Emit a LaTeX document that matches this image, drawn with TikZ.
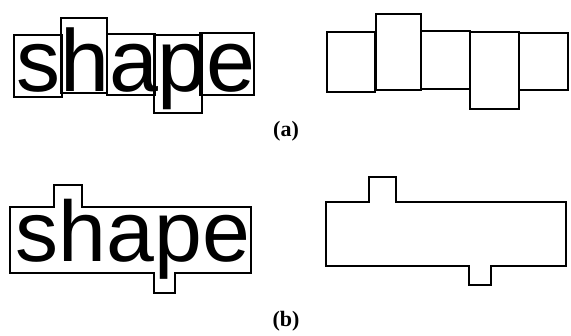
\documentclass[tikz,border=0pt]{standalone}
\usepackage{fontspec}
\setmainfont{Liberation Serif}
\newfontfamily\wordfont{Liberation Sans}
\tikzset{
  box/.style={draw=black, line width=2.6pt, inner sep=0pt},
  word/.style={inner sep=0pt, anchor=base, font=\wordfont\fontsize{88}{88}\selectfont},
  outline/.style={draw=black, line width=2.6pt, line join=miter},
  caption/.style={inner sep=0pt, font=\fontsize{22}{22}\selectfont\bfseries}
}
\begin{document}
\begin{tikzpicture}[x=1pt,y=-1pt]
\useasboundingbox (0,0) rectangle (571,336);
% (a) left
\node[word] (w1) at (136,92) {shape};
\node[box, minimum width=48pt, minimum height=62pt] (s1) at (38,66) {};
\node[box, minimum width=46pt, minimum height=75pt] (h1) at (84,55.5) {};
\node[box, minimum width=48pt, minimum height=61pt] (a1) at (131,64.5) {};
\node[box, minimum width=48pt, minimum height=78pt] (p1) at (178,74) {};
\node[box, minimum width=54pt, minimum height=62pt] (e1) at (227,64) {};
% (a) right
\node[box, minimum width=48pt, minimum height=60pt] (r1) at (351,62) {};
\node[box, minimum width=45pt, minimum height=76pt] (r2) at (398.5,52) {};
\node[box, minimum width=49pt, minimum height=58pt] (r3) at (445.5,60) {};
\node[box, minimum width=49pt, minimum height=77pt] (r4) at (494.5,70.5) {};
\node[box, minimum width=49pt, minimum height=57pt] (r5) at (543.5,61.5) {};
\node[caption] (la) at (286,131) {(a)};
% (b) left
\node[word, font=\wordfont\fontsize{86}{86}\selectfont] (w2) at (133,262) {shape};
\draw[outline] (10,207) -- (54,207) -- (54,185) -- (82,185) -- (82,207) -- (251,207)
  -- (251,273) -- (175,273) -- (175,293) -- (154,293) -- (154,273) -- (10,273) -- cycle;
% (b) right
\draw[outline] (326,202) -- (369,202) -- (369,177) -- (396,177) -- (396,202) -- (566,202)
  -- (566,266) -- (491,266) -- (491,285) -- (469,285) -- (469,266) -- (326,266) -- cycle;
\node[caption] (lb) at (286,321) {(b)};
\end{tikzpicture}
\end{document}
